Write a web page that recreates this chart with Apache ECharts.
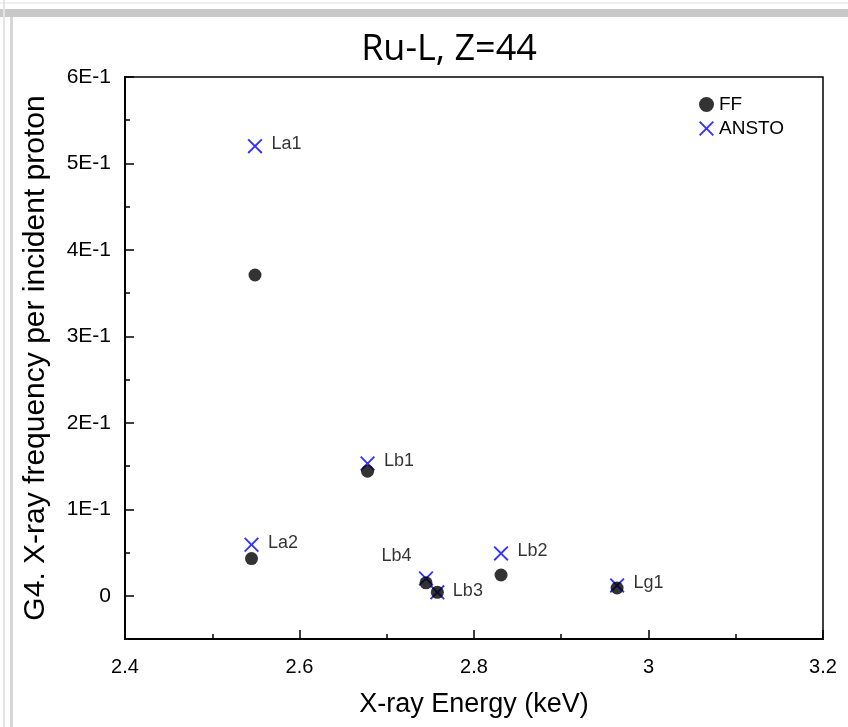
<!DOCTYPE html>
<html>
<head>
<meta charset="utf-8">
<script src="https://cdn.jsdelivr.net/npm/echarts@6/dist/echarts.min.js"></script>
<style>html,body{margin:0;padding:0;background:#fff}#c{width:848px;height:727px}</style>
</head>
<body>
<div id="c"></div>
<script>
// ---- data ----
const lineNames = ['La1', 'La2', 'Lb1', 'Lb4', 'Lb3', 'Lb2', 'Lg1'];
const energyKeV = [2.549, 2.545, 2.678, 2.745, 2.758, 2.831, 2.964];
const ffValues = [0.371, 0.043, 0.144, 0.015, 0.004, 0.024, 0.009];
const anstoValues = [0.520, 0.059, 0.153, 0.020, 0.004, 0.049, 0.012];
const yMajorTicks = [0, 0.1, 0.2, 0.3, 0.4, 0.5, 0.6];
const yMinorTicks = [0.05, 0.15, 0.25, 0.35, 0.45, 0.55];

// label placement styles (not data)
const labelPos = {
  La1: {position: 'right', offset: [4, -2]},
  La2: {position: 'right', offset: [4, -2]},
  Lb1: {position: 'right', offset: [4, -2]},
  Lb4: {position: 'left', offset: [-2, -22]},
  Lb3: {position: 'right', offset: [4, -1]},
  Lb2: {position: 'right', offset: [4, -2]},
  Lg1: {position: 'right', offset: [4, -2]}
};
const labelOnPoint = {La1: 'a', La2: 'a', Lb1: 'a', Lb4: 'a', Lb3: 'f', Lb2: 'a', Lg1: 'a'};

const xPath = 'path://M0,9 L9,0 L50,41 L91,0 L100,9 L59,50 L100,91 L91,100 L50,59 L9,100 L0,91 L41,50 Z';
const labelFont = {color: '#000', fontSize: 18, fontFamily: 'Liberation Sans, Arial, sans-serif'};

function build(values, key) {
  return energyKeV.map((e, i) => {
    const nm = lineNames[i];
    const d = {value: [e, values[i]], name: nm};
    if (labelOnPoint[nm] === key) {
      d.label = Object.assign({show: true, formatter: nm}, labelPos[nm], labelFont);
    }
    return d;
  });
}

const chart = echarts.init(document.getElementById('c'), null, {renderer: 'canvas'});
const grid = {left: 125, right: 25, top: 77, bottom: 88, show: true, borderColor: '#000', borderWidth: 1.5, backgroundColor: 'transparent'};

chart.setOption({
  animation: false,
  backgroundColor: '#fff',
  title: {
    text: 'Ru-L, Z=44', left: 444, top: 27, textAlign: 'center',
    textStyle: {fontSize: 36, fontWeight: 'normal', color: '#000', fontFamily: 'Open Sans, Liberation Sans, sans-serif'}
  },
  legend: {
    data: ['FF', 'ANSTO'], orient: 'vertical', left: 694, top: 90, itemGap: 5,
    itemWidth: 15, itemHeight: 15,
    textStyle: {fontSize: 19, color: '#000', fontFamily: 'Liberation Sans, Arial, sans-serif'}
  },
  graphic: [
    {type: 'rect', shape: {x: 0, y: 9, width: 848, height: 8}, style: {fill: '#c8c8c8'}, silent: true},
    {type: 'rect', shape: {x: 0, y: 2, width: 848, height: 2}, style: {fill: '#f0f0f0'}, silent: true},
    {type: 'rect', shape: {x: 3, y: 0, width: 2, height: 727}, style: {fill: '#e4e4e4'}, silent: true},
    {type: 'rect', shape: {x: 10, y: 17, width: 3, height: 710}, style: {fill: '#d6d6d6'}, silent: true}
  ],
  grid: grid,
  xAxis: {
    type: 'value', min: 2.4, max: 3.2, interval: 0.2,
    name: 'X-ray Energy (keV)', nameLocation: 'middle', nameGap: 52,
    nameTextStyle: {fontSize: 27, color: '#000', fontFamily: 'Liberation Sans, Arial, sans-serif'},
    axisLine: {onZero: false, lineStyle: {color: '#000', width: 2}},
    axisTick: {inside: true, length: 9, lineStyle: {color: '#000', width: 1.5}},
    minorTick: {show: true, splitNumber: 2, length: 5, lineStyle: {color: '#000', width: 1.5}},
    axisLabel: {fontSize: 20, color: '#000', margin: 18, fontFamily: 'Liberation Sans, Arial, sans-serif'},
    splitLine: {show: false}
  },
  yAxis: [{
    type: 'value', min: -0.05, max: 0.6,
    name: 'G4. X-ray frequency per incident proton', nameLocation: 'middle', nameGap: 74,
    nameTextStyle: {fontSize: 30, color: '#000', fontFamily: 'Liberation Sans, Arial, sans-serif'},
    axisLine: {onZero: false, lineStyle: {color: '#000', width: 2}},
    axisTick: {inside: true, length: 9, customValues: yMajorTicks, lineStyle: {color: '#000', width: 1.5}},
    axisLabel: {fontSize: 21, color: '#000', margin: 14, customValues: yMajorTicks,
      fontFamily: 'Liberation Sans, Arial, sans-serif',
      formatter: v => (Math.abs(v) < 1e-9 ? '0' : Math.round(v * 10) + 'E-1')},
    splitLine: {show: false}
  }, {
    type: 'value', min: -0.05, max: 0.6, position: 'left',
    axisLine: {show: false},
    axisTick: {inside: true, length: 5, customValues: yMinorTicks, lineStyle: {color: '#000', width: 1.5}},
    axisLabel: {show: false},
    splitLine: {show: false}
  }],
  series: [{
    name: 'ANSTO', type: 'scatter', z: 2,
    symbol: xPath, symbolSize: 15,
    itemStyle: {color: '#0000ff'},
    data: build(anstoValues, 'a')
  }, {
    name: 'FF', type: 'scatter', z: 3,
    symbol: 'circle', symbolSize: 13,
    itemStyle: {color: '#000'},
    data: build(ffValues, 'f')
  }]
});
</script>
</body>
</html>
